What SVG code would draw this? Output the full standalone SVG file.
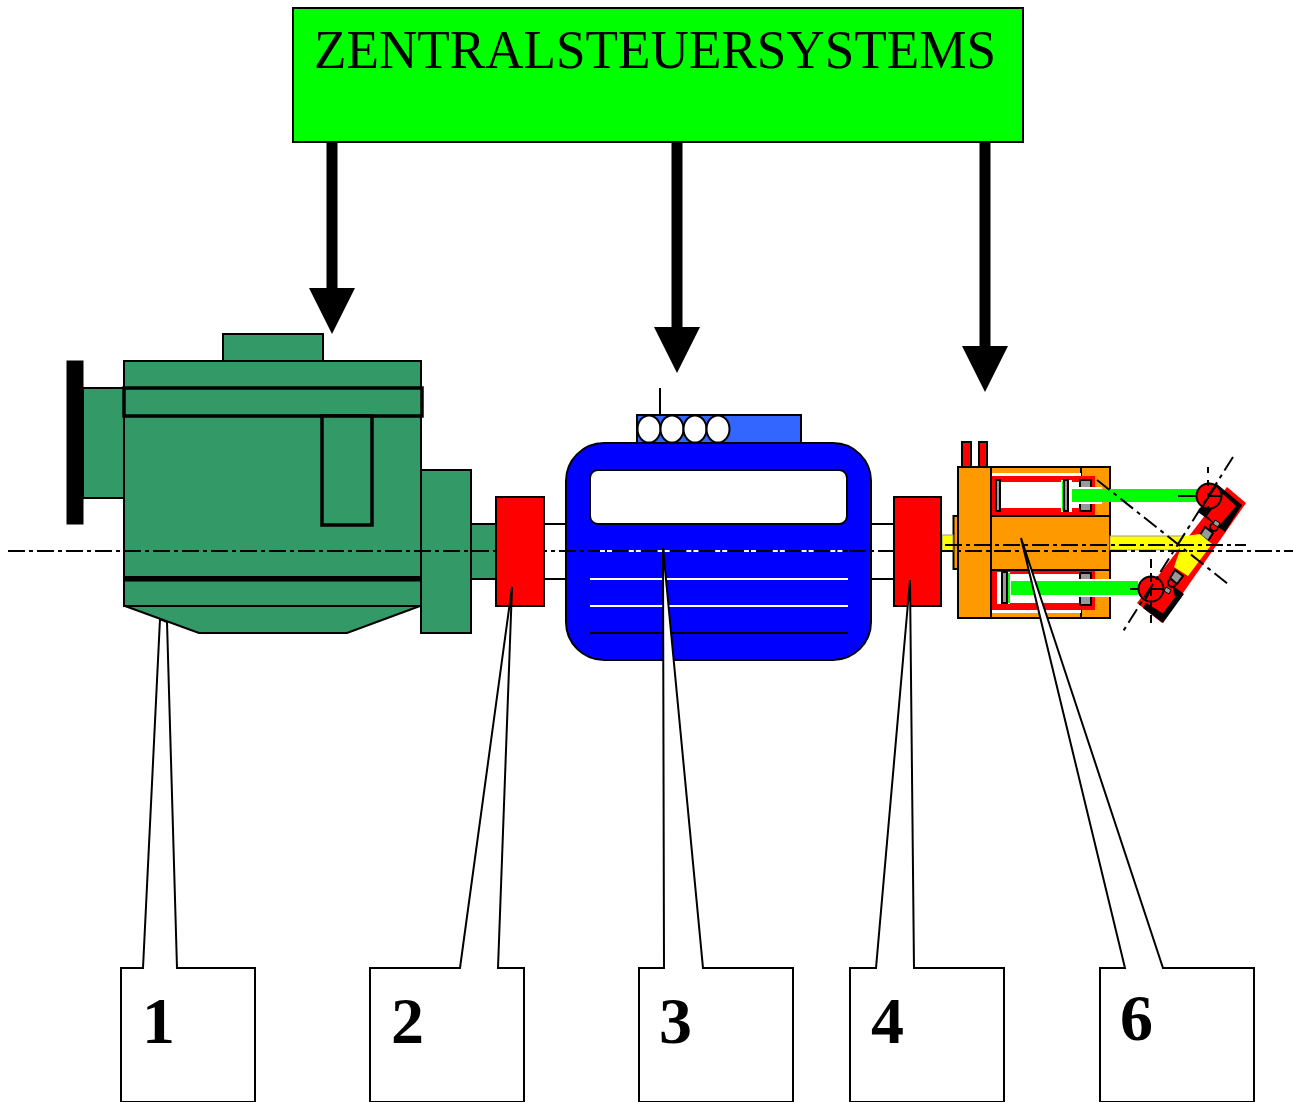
<svg xmlns="http://www.w3.org/2000/svg" width="1293" height="1102" viewBox="0 0 1293 1102">
<defs>
<style>
.k{stroke:#000;stroke-width:2}
.g{fill:#339966}
.r{fill:#f00}
.o{fill:#f90}
.y{fill:#ff0}
.gr{fill:#999;stroke:#000;stroke-width:2}
.lime{fill:#0f0}
.w{fill:#fff}
.cl{fill:none;stroke:#000;stroke-width:2;stroke-dasharray:17 4 4 4}
.cl2{fill:none;stroke:#000;stroke-width:2;stroke-dasharray:16 5 4 5}
.ln{fill:none;stroke:#000;stroke-width:2}
.call{fill:#fff;stroke:#000;stroke-width:2}
.num{font-family:"Liberation Serif",serif;font-weight:bold;font-size:66px;fill:#000}
</style>
<marker id="ah" markerUnits="userSpaceOnUse" markerWidth="46" markerHeight="46" refX="0" refY="23" orient="auto"><path d="M0 0L46 23L0 46Z" fill="#000"/></marker>
</defs>
<rect width="1293" height="1102" fill="#fff"/>

<g id="callout-1">
<polygon class="call" points="121,1102 121,968 143,968 160,619 167,622 177,968 255,968 255,1102"/>
<text class="num" x="142" y="1043">1</text>
</g>

<g id="engine">
<rect x="67" y="361" width="16" height="163" fill="#000" stroke="#000"/>
<rect class="g k" x="83" y="388" width="41" height="110"/>
<rect class="g k" x="223" y="334" width="100" height="27"/>
<rect class="g k" x="124" y="361" width="297" height="245"/>
<polygon class="g k" points="125,606 420,606 347,633 199,633"/>
<rect class="g" x="124" y="388" width="298" height="28" stroke="#000" stroke-width="3.5"/>
<rect class="g" x="322" y="416" width="50" height="109" stroke="#000" stroke-width="3.5"/>
<rect x="124" y="576" width="297" height="5.5" fill="#000"/>
<rect class="g k" x="421" y="470" width="50" height="163"/>
<rect class="g k" x="471" y="524" width="25" height="55"/>
</g>

<g id="motor">
<line class="ln" x1="660" y1="388" x2="660" y2="415"/>
<rect x="637" y="415" width="164" height="28" fill="#36f" stroke="#000" stroke-width="2"/>
<ellipse class="w k" cx="649" cy="429" rx="11.5" ry="13.5"/>
<ellipse class="w k" cx="672" cy="429" rx="11.5" ry="13.5"/>
<ellipse class="w k" cx="695" cy="429" rx="11.5" ry="13.5"/>
<ellipse class="w k" cx="718" cy="429" rx="11.5" ry="13.5"/>
<line class="ln" x1="544" y1="524" x2="566" y2="524"/>
<line class="ln" x1="544" y1="579" x2="566" y2="579"/>
<line class="ln" x1="871" y1="524" x2="894" y2="524"/>
<line class="ln" x1="871" y1="579" x2="894" y2="579"/>
<rect x="566" y="443" width="305" height="217" rx="38" ry="38" fill="#00f" stroke="#000" stroke-width="2"/>
<rect class="w k" x="590" y="470" width="257" height="54" rx="8" ry="8"/>
<line x1="590" y1="579" x2="848" y2="579" stroke="#fff" stroke-width="2"/>
<line x1="590" y1="606" x2="848" y2="606" stroke="#fff" stroke-width="2"/>
<line x1="590" y1="633" x2="848" y2="633" stroke="#000" stroke-width="2"/>
</g>

<g id="actuator">
<rect class="r k" x="962" y="442" width="9" height="25"/>
<rect class="r k" x="979" y="442" width="8" height="25"/>
<rect class="o k" x="991" y="467" width="119" height="151"/>
<line class="ln" x1="1081" y1="467" x2="1081" y2="618"/>
<rect class="w" x="992" y="473" width="89" height="3"/>
<rect class="w" x="992" y="610" width="89" height="3"/>
<rect class="r" x="992" y="476" width="103" height="39"/>
<rect class="r" x="992" y="570" width="103" height="40"/>
<rect class="w" x="1001" y="482" width="79" height="26"/>
<rect class="w" x="997" y="574" width="83" height="29"/>
<rect class="gr" x="996" y="480" width="4" height="31"/>
<rect class="w" x="1061" y="480" width="11" height="32"/>
<rect class="lime" x="1062" y="481" width="3" height="30"/>
<rect class="gr" x="1064" y="480" width="4" height="31"/>
<rect class="gr" x="1080" y="480" width="11" height="31"/>
<rect class="w" x="997" y="572" width="13" height="32"/>
<rect class="lime" x="1007" y="573" width="3" height="30"/>
<rect class="gr" x="1002" y="572" width="5" height="31"/>
<rect class="gr" x="1080" y="573" width="11" height="32"/>
<rect class="w" x="1072" y="487" width="30" height="17"/>
<rect class="w" x="1011" y="579" width="126" height="18"/>
<rect class="lime" x="1072" y="489" width="126" height="13"/>
<rect class="lime" x="1011" y="581" width="127" height="14"/>
<rect class="o k" x="991" y="516" width="119" height="54"/>
<rect class="o k" x="958" y="467" width="33" height="151"/>
<rect class="o k" x="953.500" y="516" width="4.500" height="53"/>
<rect class="y" x="942" y="535" width="11" height="16" stroke="#999" stroke-width="1"/>
<rect class="y" x="1110" y="536" width="72" height="14" stroke="#999" stroke-width="1"/>
<polygon class="r" points="1227,487 1246,503 1162,623 1137,603"/>
<polygon fill="#000" points="1217,484 1242,505 1225,532 1198,512"/>
<polygon class="r" points="1223,494 1236,506 1218,527 1207,516"/>
<polygon fill="#000" points="1172,585 1184,594 1163,623 1143,608 1146,602 1163,613 1175,597"/>
<polygon class="r" points="1167,590 1175,597 1162,613 1145,602 1155,590"/>
<circle class="r k" cx="1214" cy="527" r="4"/>
<circle class="r k" cx="1172" cy="583" r="4"/>
<polygon class="gr" points="1205,527 1213,533 1208,541 1200,535"/>
<polygon class="gr" points="1175,570 1183,576 1177,584 1170,578"/>
<polygon fill="#999" stroke="#000" points="1215,520 1220,523 1218,527 1213,524"/>
<polygon fill="#999" stroke="#000" points="1166,587 1171,590 1169,594 1164,591"/>
<polygon class="y" points="1178,537 1200,534 1212,544 1188,576 1174,567 1180,550"/>
<circle class="r k" cx="1209" cy="496" r="12.500"/>
<circle class="r k" cx="1151" cy="589" r="12.500"/>
<line class="ln" x1="1209" y1="496" x2="1221" y2="496"/>
<line class="ln" x1="1209" y1="496" x2="1216" y2="486"/>
<line class="ln" x1="1209" y1="496" x2="1203" y2="506"/>
<line class="ln" x1="1178" y1="496" x2="1197" y2="496"/>
<line class="ln" x1="1130" y1="589" x2="1139" y2="589"/>
<line class="ln" x1="1151" y1="589" x2="1163" y2="589"/>
<line class="ln" x1="1151" y1="589" x2="1145" y2="600"/>
</g>

<g id="centerlines">
<line class="cl" x1="8" y1="551" x2="1293" y2="551"/>
<line class="cl" x1="945" y1="545" x2="1246" y2="545"/>
<line class="cl2" x1="1097" y1="480" x2="1228" y2="584"/>
<line class="cl2" x1="1233" y1="457" x2="1122" y2="633"/>
<line class="ln" stroke-dasharray="6 7" x1="1208" y1="467" x2="1208" y2="510"/>
<line class="ln" stroke-dasharray="9 5" x1="1151" y1="559" x2="1151" y2="623"/>
<line x1="590" y1="551" x2="848" y2="551" stroke="#000" stroke-width="2"/>
<line x1="600" y1="551" x2="848" y2="551" stroke="#fff" stroke-width="2" stroke-dasharray="5 2 5 16.800"/>
</g>

<g id="coupling-2"><rect class="r k" x="496" y="497" width="48" height="109"/></g>
<g id="coupling-4"><rect class="r k" x="894" y="497" width="47" height="109"/></g>

<g id="control">
<rect x="293" y="8" width="730" height="134" fill="#0f0" stroke="#000" stroke-width="2"/>
<text x="314" y="68" font-family="'Liberation Serif',serif" font-size="54" fill="#000" textLength="682" lengthAdjust="spacingAndGlyphs">ZENTRALSTEUERSYSTEMS</text>
</g>

<g id="connectors">
<line x1="332" y1="142" x2="332" y2="288" stroke="#000" stroke-width="11" marker-end="url(#ah)"/>
<line x1="677" y1="142" x2="677" y2="327" stroke="#000" stroke-width="11" marker-end="url(#ah)"/>
<line x1="985" y1="142" x2="985" y2="346" stroke="#000" stroke-width="11" marker-end="url(#ah)"/>
</g>

<g id="callout-2">
<polygon class="call" points="370,1102 370,968 460,968 512,587 498,968 524,968 524,1102"/>
<text class="num" x="391" y="1043">2</text>
</g>
<g id="callout-3">
<polygon class="call" points="639,1102 639,968 664,968 663,548 703,968 793,968 793,1102"/>
<text class="num" x="659" y="1043">3</text>
</g>
<g id="callout-4">
<polygon class="call" points="850,1102 850,968 876,968 910,580 914,968 1004,968 1004,1102"/>
<text class="num" x="871" y="1043">4</text>
</g>
<g id="callout-6">
<polygon class="call" points="1100,1102 1100,968 1125,968 1021,538 1163,968 1254,968 1254,1102"/>
<text class="num" x="1120" y="1040">6</text>
</g>
</svg>
